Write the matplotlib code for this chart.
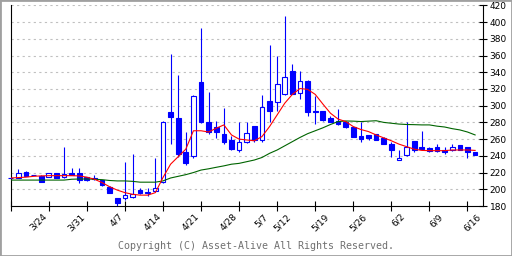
import matplotlib
matplotlib.use('Agg')
from matplotlib import pyplot as plt
from matplotlib.patches import Rectangle
from matplotlib.ticker import MultipleLocator

# trading days shown on the chart (last one has no candle yet)
days = ['3/14', '3/17', '3/18', '3/19', '3/21',
        '3/24', '3/25', '3/26', '3/27', '3/28',
        '3/31', '4/1', '4/2', '4/3', '4/4',
        '4/7', '4/8', '4/9', '4/10', '4/11',
        '4/14', '4/15', '4/16', '4/17', '4/18',
        '4/21', '4/22', '4/23', '4/24', '4/25',
        '4/28', '4/30', '5/1', '5/2', '5/7', '5/8', '5/9',
        '5/12', '5/13', '5/14', '5/15', '5/16',
        '5/19', '5/20', '5/21', '5/22', '5/23',
        '5/26', '5/27', '5/28', '5/29', '5/30',
        '6/2', '6/3', '6/4', '6/5', '6/6',
        '6/9', '6/10', '6/11', '6/12', '6/13', '6/16']

opens = [213, 213, 221, 217.5, 216, 215, 219, 215, 220, 219,
         214.5, 214, 211, 203, 190, 189, 190.5, 199, 197, 198,
         209, 292, 285, 244.5, 240, 328, 280, 274, 266, 258.5,
         246.5, 256, 275.5, 259, 305.5, 304, 313.5, 342, 315, 330,
         293.5, 293.5, 285, 281.5, 281, 274.5, 264, 264.5, 266, 261,
         254.5, 235, 240.5, 258, 250.5, 249, 250, 247, 246.5, 253,
         250.5, 244.5]
highs = [213.5, 224, 221.5, 217.5, 216.5, 219.5, 219.5, 250, 225, 225,
         214.5, 217, 211.5, 204, 190, 233, 242, 202, 202, 238,
         281.5, 362, 337, 268, 312.5, 393, 316, 282, 297, 264,
         280, 281, 276, 313, 373, 360, 407, 349.5, 341, 330.5,
         312, 294, 288, 296, 281.5, 275, 281, 265, 266.5, 262,
         257, 246.5, 280, 258, 270, 250, 254, 250.5, 254, 253,
         250.5, 244.5]
lows = [212.5, 213, 216, 216.5, 209, 214.5, 213, 213, 217, 207,
        210, 211, 204, 195.5, 180, 187, 190, 194, 192, 198,
        207, 254, 239, 229, 237, 279.5, 266, 261, 254, 247.5,
        244, 255, 256, 257, 281, 294, 313, 313.5, 308, 288,
        278.5, 282, 280, 277, 273, 262.5, 256, 259, 258.5, 254,
        239, 234.5, 240, 244, 246.5, 244, 244, 242.5, 246, 246.5,
        238, 241]
closes = [213, 220, 216, 216.5, 209, 219, 214, 218, 217.5, 211,
          211, 212, 205.5, 196, 183, 193, 194.5, 196, 195, 202,
          281, 286, 242, 232, 312, 280, 269, 268, 256, 248,
          256, 267, 259, 299, 294, 326, 334, 314, 330, 292,
          292, 282.5, 280.5, 278.5, 275, 263, 260, 261.5, 259, 254.5,
          247.5, 238, 250, 246.5, 248, 245.5, 245.5, 245, 250, 246.5,
          244, 241]

# moving averages
ma_short = [213.5, 214, 214.5, 215.5, 216, 216.3, 216.3, 216.3, 216.3, 216,
            214.5, 212, 208, 203, 199, 196, 194, 193, 193, 196,
            214, 230, 239, 248, 270, 270, 268.5, 273, 277, 265,
            260, 259, 258, 263, 275, 289, 303, 313.5, 320.5, 319.5,
            313.5, 302, 291, 284, 281, 275, 271.5, 269, 265, 261.5,
            258, 254, 251, 248, 246.5, 246.2, 246.2, 246.2, 247, 247,
            247, 246.5]
ma_long = [211, 211, 211, 211, 211, 211, 211, 211, 212, 212.3,
           212.3, 212, 211.5, 210.5, 210, 210, 209.5, 208.5, 208.5, 208.5,
           210, 213.5, 215.5, 217.5, 220, 223, 224.5, 226.3, 228, 230,
           231, 233, 235, 238, 243, 247, 252, 257, 262, 266.5,
           270, 273.5, 277.5, 281, 281.7, 281.5, 281, 281.5, 282, 280,
           279, 278, 277.5, 277.3, 277, 277, 275.5, 274.5, 272.5, 271,
           268.5, 265]

date_labels = ['3/24', '3/31', '4/7', '4/14', '4/21', '4/28', '5/7',
               '5/12', '5/19', '5/26', '6/2', '6/9', '6/16']

blue = '#0000ff'

fig = plt.figure(figsize=(5.12, 2.56), dpi=100)
ax = fig.add_axes([0.0209, 0.1953, 0.9219, 0.7838])

for y in range(200, 421, 20):
    ax.axhline(y, color='#c0c0c0', lw=0.8, ls=(0, (2, 3)), zorder=0)

w = 0.62
for i in range(len(opens)):
    o, h, l, c = opens[i], highs[i], lows[i], closes[i]
    ax.vlines(i, l, h, color=blue, lw=0.8, zorder=2, clip_on=False)
    lo, hi = min(o, c), max(o, c)
    if hi - lo < 0.6:
        hi = lo + 0.6
    if c > o:
        face = 'white'
    else:
        face = blue
    ax.add_patch(Rectangle((i - w / 2, lo), w, hi - lo, facecolor=face,
                           edgecolor=blue, lw=0.8, zorder=3, clip_on=False))

x = list(range(len(ma_short)))
ax.plot(x, ma_long, color='#006400', lw=0.8, zorder=4)
ax.plot(x, ma_short, color='#ff0000', lw=0.8, zorder=5)

ax.set_xlim(0, len(days) - 1)
ax.set_ylim(180, 420)
ax.spines['top'].set_visible(False)
for s in ['left', 'right', 'bottom']:
    ax.spines[s].set_linewidth(0.8)
ax.yaxis.tick_right()
ax.set_yticks(range(180, 421, 20))
ax.tick_params(axis='y', direction='inout', length=6, width=0.8,
               labelsize=6.5, pad=2, colors='black')
ax.xaxis.set_major_locator(MultipleLocator(5))
ax.tick_params(axis='x', direction='inout', length=7, width=0.8,
               labelbottom=False)
ax.tick_params(axis='y', left=False)

for lbl in date_labels:
    ax.text(days.index(lbl), -0.03, lbl, rotation=45, ha='right', va='top',
            fontsize=6.5, transform=ax.get_xaxis_transform())

fig.text(0.5, 1 - 246 / 256, 'Copyright (C) Asset-Alive All Rights Reserved.',
         ha='center', va='center', family='DejaVu Sans Mono', fontsize=7.2,
         color='#707070')
fig.patches.append(Rectangle((0, 0), 1, 1, transform=fig.transFigure,
                             fill=False, edgecolor='#a0a0a0', lw=2))

plt.savefig('out.png', dpi=100)
